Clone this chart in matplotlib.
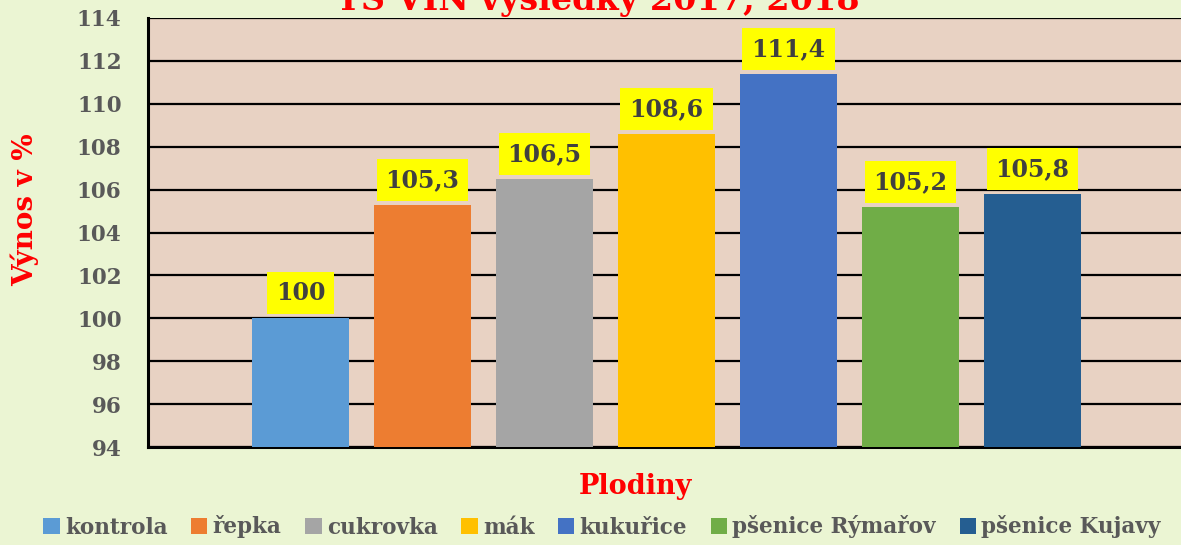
import matplotlib
matplotlib.use("Agg")
import matplotlib.pyplot as plt
from matplotlib.patches import Patch

categories = ["kontrola", "řepka", "cukrovka", "mák", "kukuřice", "pšenice Rýmařov", "pšenice Kujavy"]
values = [100, 105.3, 106.5, 108.6, 111.4, 105.2, 105.8]
labels = ["100", "105,3", "106,5", "108,6", "111,4", "105,2", "105,8"]
colors = ["#5B9BD5", "#ED7D31", "#A5A5A5", "#FFC000", "#4472C4", "#70AD47", "#255E91"]
yticks = [94, 96, 98, 100, 102, 104, 106, 108, 110, 112, 114]

W, H = 1181, 545
fig = plt.figure(figsize=(W / 100, H / 100), dpi=100)
fig.patch.set_facecolor("#EBF5D3")

font = "DejaVu Serif"
gray = "#595959"

ax = fig.add_axes([148 / W, 1 - 447 / H, (1185 - 148) / W, (447 - 18) / H])
ax.set_facecolor("#E8D2C3")
ax.set_xlim(-1.25, 7.25)
ax.set_ylim(94, 114)

for i, (v, c) in enumerate(zip(values, colors)):
    ax.bar(i, v - 94, bottom=94, width=0.795, color=c, zorder=3)
    ax.text(i, v + 0.6, labels[i], ha="center", va="bottom", fontsize=17,
            fontweight="heavy", family=font, color="#404040", zorder=5,
            bbox=dict(facecolor="#FFFF00", edgecolor="none", pad=6.5))

ax.set_yticks(yticks)
ax.set_yticklabels([str(t) for t in yticks], fontsize=15.5, fontweight="heavy",
                   family=font, color=gray)
ax.tick_params(axis="y", length=0, pad=19)
ax.set_xticks([])
ax.yaxis.grid(True, color="black", linewidth=1.6, zorder=1)
ax.set_axisbelow(True)
for s in ["left", "bottom"]:
    ax.spines[s].set_linewidth(2.2)
    ax.spines[s].set_color("black")
ax.spines["right"].set_visible(False)
ax.spines["top"].set_visible(False)

fig.text(598 / W, 1 - 10 / H, "TS VIN výsledky 2017, 2018", ha="center", va="baseline",
         fontsize=24, fontweight="heavy", family=font, color="#FF0000")
fig.text(25 / W, 1 - 210 / H, "Výnos v %", ha="center", va="center", rotation=90,
         fontsize=20, fontweight="heavy", family=font, color="#FF0000")
fig.text(635 / W, 1 - 487 / H, "Plodiny", ha="center", va="center",
         fontsize=19.5, fontweight="heavy", family=font, color="#FF0000")

handles = [Patch(facecolor=c, edgecolor="none") for c in colors]
leg = fig.legend(handles, categories, loc="center", bbox_to_anchor=(602 / W, 1 - 527 / H),
                 ncol=7, frameon=False, handlelength=0.75, handleheight=0.75,
                 handletextpad=0.25, columnspacing=1.1,
                 prop=dict(family=font, weight="heavy", size=15.5))
for t in leg.get_texts():
    t.set_color(gray)

fig.savefig("out.png", dpi=100, facecolor=fig.get_facecolor())
